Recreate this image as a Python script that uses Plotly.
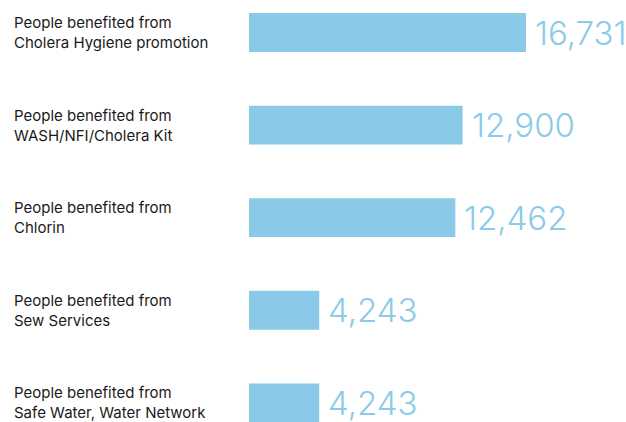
import plotly.graph_objects as go

labels = [
    "People benefited from<br>Cholera Hygiene promotion",
    "People benefited from<br>WASH/NFI/Cholera Kit",
    "People benefited from<br>Chlorin",
    "People benefited from<br>Sew Services",
    "People benefited from<br>Safe Water, Water Network",
]
values = [16731, 12900, 12462, 4243, 4243]

BAR_COLOR = "#8AC9E7"
TEXT_COLOR = "#8BCBE8"

cats = list(range(len(values)))

fig = go.Figure()
fig.add_trace(go.Bar(
    x=values, y=cats, orientation="h",
    marker=dict(color=BAR_COLOR, line=dict(width=0)),
    width=0.42, hoverinfo="skip",
))

annotations = []
for i, (lab, v) in enumerate(zip(labels, values)):
    annotations.append(dict(
        x=-0.629, xref="paper", y=i, yref="y", text=lab, showarrow=False,
        xanchor="left", yanchor="middle", align="left",
        font=dict(family="Inter", size=15, color="#1a1a1a"),
    ))
    annotations.append(dict(
        x=v, xref="x", y=i, yref="y", text=f"{v:,}", showarrow=False,
        xanchor="left", yanchor="middle", xshift=7,
        font=dict(family="Inter", size=33, color=TEXT_COLOR, weight=300),
    ))

fig.update_layout(
    width=626, height=422,
    margin=dict(l=249, r=0, t=0, b=0),
    paper_bgcolor="white", plot_bgcolor="white",
    showlegend=False,
    xaxis=dict(range=[0, 22771], visible=False),
    yaxis=dict(range=[4.207, -0.351], visible=False),
    annotations=annotations,
)

fig.write_html(
    "out.html",
    config={"displayModeBar": False},
    post_script="document.body.style.margin='0';document.body.style.overflow='hidden';",
)
